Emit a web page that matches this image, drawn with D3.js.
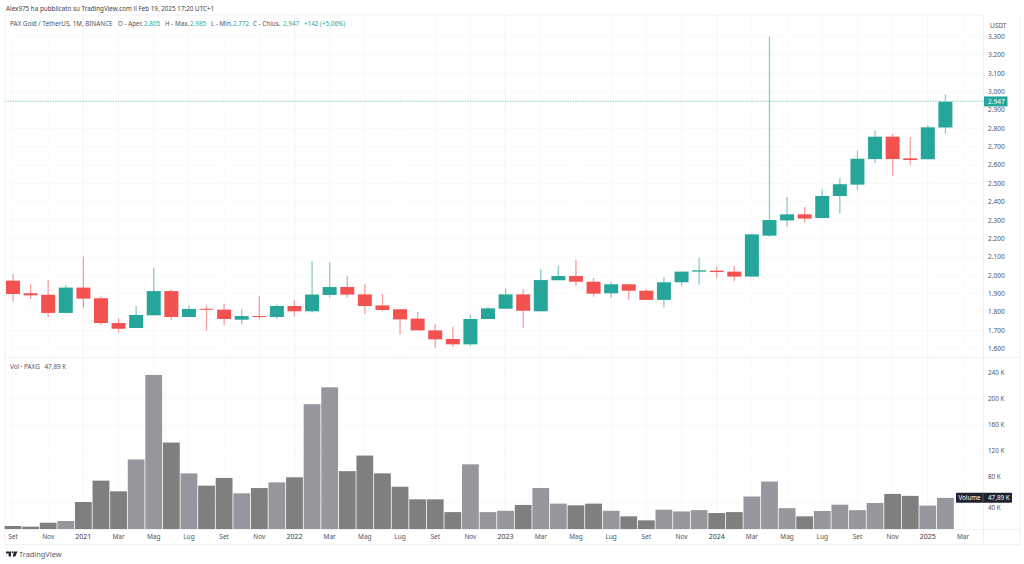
<!DOCTYPE html>
<html>
<head>
<meta charset="utf-8">
<script src="https://cdn.jsdelivr.net/npm/d3@7"></script>
<style>
  html, body { margin: 0; padding: 0; background: #fff; }
  svg { display: block; }
  text { font-family: "Noto Sans", sans-serif; }
</style>
</head>
<body>
<svg id="chart"></svg>
<script>
// monthly candles, Set 2020 -> Feb 2025
const opens = [1.971,1.902,1.894,1.795,1.933,1.875,1.740,1.713,1.782,1.914,1.773,1.818,1.813,1.758,1.778,1.773,1.833,1.804,1.893,
  1.936,1.896,1.836,1.815,1.764,1.700,1.653,1.624,1.762,1.818,1.896,1.804,1.973,1.996,1.965,1.902,1.951,1.916,1.866,
  1.962,2.020,2.025,2.020,1.993,2.216,2.299,2.332,2.312,2.432,2.494,2.633,2.755,2.637,2.632,2.805];
const highs = [2.007,1.953,1.974,1.947,2.101,1.884,1.766,1.833,2.040,1.924,1.838,1.836,1.844,1.815,1.887,1.842,1.865,2.078,2.071,
  1.996,1.953,1.898,1.818,1.800,1.735,1.720,1.784,1.829,1.929,1.925,2.031,2.052,2.085,1.985,1.965,1.951,1.924,1.991,
  2.020,2.096,2.047,2.051,2.225,3.300,2.427,2.372,2.468,2.530,2.679,2.788,2.770,2.753,2.819,2.985];
const lows = [1.856,1.871,1.771,1.795,1.824,1.729,1.688,1.713,1.782,1.758,1.773,1.698,1.729,1.733,1.760,1.760,1.775,1.797,1.878,
  1.878,1.791,1.804,1.679,1.700,1.606,1.610,1.615,1.762,1.818,1.715,1.804,1.973,1.945,1.884,1.878,1.867,1.866,1.824,
  1.940,1.949,1.987,1.967,1.993,2.210,2.265,2.287,2.312,2.338,2.465,2.610,2.541,2.599,2.632,2.772];
const closes = [1.898,1.891,1.795,1.933,1.873,1.740,1.709,1.784,1.914,1.773,1.817,1.813,1.762,1.778,1.773,1.833,1.804,1.895,1.936,
  1.895,1.833,1.811,1.760,1.700,1.651,1.624,1.762,1.820,1.896,1.807,1.974,1.996,1.965,1.900,1.951,1.916,1.866,1.962,
  2.020,2.027,2.018,1.993,2.223,2.301,2.332,2.309,2.432,2.496,2.635,2.755,2.633,2.628,2.806,2.947];
const volumes = [4.6,3.6,9.7,12.3,41.5,74.4,58,107,237,133,85.6,66.7,78.5,54.9,63,71.8,79.5,192,218,
  89,113,85.6,65,45.6,45.6,26,99.5,26,28,37,63,39,36.4,39,28,19.5,13.3,29.7,
  27,29,24.6,26,50,73,32,19.5,27.7,37.4,29,40,54,51,36,47.89];

const priceTicks = [1.6,1.7,1.8,1.9,2.0,2.1,2.2,2.3,2.4,2.5,2.6,2.7,2.8,2.9,3.0,3.1,3.2,3.3];
const volTicks = [40,80,120,160,200,240];
const timeLabels = ["Set","Nov","2021","Mar","Mag","Lug","Set","Nov","2022","Mar","Mag","Lug","Set","Nov","2023","Mar","Mag","Lug","Set","Nov","2024","Mar","Mag","Lug","Set","Nov","2025","Mar"];

const lastPrice = 2.947;
const lastVolume = 47.89;

const width = 1024;
const height = 564;
const green = "#26a69a";
const red = "#f45151";
const gridCol = "#f8f9fa";
const textCol = "#50535e";

const svg = d3.select("#chart").attr("width", width).attr("height", height);

const x = d3.scaleLinear().domain([0, 54]).range([13, 963]);
const y = d3.scaleLinear().domain([2, 3]).range([275.3, 91.7]);
const yVol = d3.scaleLinear().domain([0, 240]).range([529, 373]);
const fmtPrice = d3.format(".3f");
const bodyW = 14;
const barW = 16.8;

// frame + grid
const grid = svg.append("g");
grid.selectAll("line.h").data(priceTicks).join("line")
  .attr("x1", 5).attr("x2", 983).attr("y1", d => y(d)).attr("y2", d => y(d))
  .attr("stroke", gridCol);
grid.selectAll("line.hv").data(volTicks).join("line").attr("class", "hv")
  .attr("x1", 5).attr("x2", 983).attr("y1", d => yVol(d)).attr("y2", d => yVol(d))
  .attr("stroke", gridCol);
grid.selectAll("line.v").data(timeLabels).join("line").attr("class", "v")
  .attr("x1", (d, i) => x(i * 2)).attr("x2", (d, i) => x(i * 2))
  .attr("y1", 15).attr("y2", 529)
  .attr("stroke", d => d.length == 4 ? "#f3f4f6" : gridCol);

const frame = [[5, 983, 15, 15], [5, 1020, 357.5, 357.5], [5, 1020, 529.5, 529.5], [5, 1020, 544.5, 544.5], [983.5, 983.5, 15, 544], [1020, 1020, 15, 544], [5, 5, 15, 544]];
svg.append("g").selectAll("line").data(frame).join("line")
  .attr("x1", d => d[0]).attr("x2", d => d[1]).attr("y1", d => d[2]).attr("y2", d => d[3])
  .attr("stroke", "#f0f1f4");

// volume bars
svg.append("g").selectAll("rect").data(volumes).join("rect")
  .attr("x", (d, i) => x(i) - barW / 2)
  .attr("width", barW)
  .attr("y", d => yVol(d))
  .attr("height", d => yVol(0) - yVol(d))
  .attr("fill", (d, i) => closes[i] >= opens[i] ? "#95979c" : "#7f7f7f");

// candles
const candles = svg.append("g").selectAll("g").data(opens).join("g")
  .attr("fill", (d, i) => closes[i] >= opens[i] ? green : red)
  .attr("stroke", (d, i) => closes[i] >= opens[i] ? green : red);
candles.append("line")
  .attr("x1", (d, i) => x(i)).attr("x2", (d, i) => x(i))
  .attr("y1", (d, i) => y(highs[i])).attr("y2", (d, i) => y(lows[i]))
  .attr("stroke-width", 1.3).attr("stroke-opacity", 0.55);
candles.append("rect")
  .attr("stroke", "none")
  .attr("x", (d, i) => x(i) - bodyW / 2)
  .attr("width", bodyW)
  .attr("y", (d, i) => y(Math.max(opens[i], closes[i])))
  .attr("height", (d, i) => Math.max(1, Math.abs(y(opens[i]) - y(closes[i]))));

// last price line
svg.append("line")
  .attr("x1", 5).attr("x2", 983).attr("y1", y(lastPrice)).attr("y2", y(lastPrice))
  .attr("stroke", "#a5dcd4").attr("stroke-width", 1.2).attr("stroke-dasharray", "1.5 1");

// price axis
const priceAxis = svg.append("g");
priceAxis.selectAll("text").data(priceTicks).join("text")
  .attr("x", 988).attr("y", d => y(d) + 2.3)
  .attr("font-size", 6.5).attr("fill", textCol)
  .text(d => fmtPrice(d));
svg.append("text").attr("x", 990).attr("y", 27.5).attr("font-size", 6.5).attr("fill", textCol).text("USDT");

// volume axis, 40 K sits just under the volume tag
svg.append("g").selectAll("text").data(volTicks).join("text")
  .attr("x", 988).attr("y", d => yVol(d) + (d == 40 ? 6.8 : 2.3))
  .attr("font-size", 6.3).attr("fill", textCol)
  .text(d => d + " K");

// time axis
svg.append("g").selectAll("text").data(timeLabels).join("text")
  .attr("x", (d, i) => x(i * 2)).attr("y", 539)
  .attr("text-anchor", "middle")
  .attr("font-size", d => d.length == 4 ? 7 : 6.5)
  .attr("fill", d => d.length == 4 ? "#33363f" : textCol)
  .text(d => d);

// price tag
svg.append("rect").attr("x", 984).attr("y", y(lastPrice) - 5).attr("width", 23.5).attr("height", 10).attr("fill", green);
svg.append("text").attr("x", 988).attr("y", y(lastPrice) + 2.4).attr("font-size", 6.5).attr("fill", "#fff").text(fmtPrice(lastPrice));

// volume tag
svg.append("rect").attr("x", 956).attr("y", yVol(lastVolume) - 5).attr("width", 56).attr("height", 10).attr("rx", 1).attr("fill", "#1f2230");
svg.append("line").attr("x1", 983).attr("x2", 983).attr("y1", yVol(lastVolume) - 5).attr("y2", yVol(lastVolume) + 5).attr("stroke", "#555");
svg.append("text").attr("x", 958.5).attr("y", yVol(lastVolume) + 2.3).attr("font-size", 6.2).attr("fill", "#fff").text("Volume");
svg.append("text").attr("x", 988).attr("y", yVol(lastVolume) + 2.3).attr("font-size", 6.3).attr("fill", "#fff").text("47,89 K");

// header
svg.append("text").attr("x", 6).attr("y", 10.5).attr("font-size", 6.3).attr("fill", "#3c3f4a")
  .text("Alex975 ha pubblicato su TradingView.com il Feb 19, 2025 17:20 UTC+1");

// legend
const legendParts = [
  [10, "PAX Gold / TetherUS, 1M, BINANCE", textCol],
  [118, "O - Aper.", textCol], [144, "2.805", green],
  [165, "H - Max.", textCol], [190, "2.985", green],
  [211, "L - Min.", textCol], [233, "2.772", green],
  [253, "C - Chius.", textCol], [283, "2.947", green],
  [304, "+142 (+5,06%)", green]
];
svg.append("g").selectAll("text").data(legendParts).join("text")
  .attr("x", d => d[0]).attr("y", 25.5).attr("font-size", 6.3).attr("fill", d => d[2]).text(d => d[1]);

svg.append("text").attr("x", 10).attr("y", 368.5).attr("font-size", 6.3).attr("fill", textCol).text("Vol · PAXG");
svg.append("text").attr("x", 44.5).attr("y", 368.5).attr("font-size", 6.3).attr("fill", textCol).text("47,89 K");

// watermark
svg.append("path").attr("d", "M6 551.5h5v5h-2.4v-3H6z M14 551.5h3.5l-2.2 5h-2.6z M11.6 552.2a0.9 0.9 0 1 0 1.8 0a0.9 0.9 0 1 0 -1.8 0z").attr("fill", "#22252e");
svg.append("text").attr("x", 19).attr("y", 557).attr("font-size", 7.4).attr("fill", "#55586a").text("TradingView");
</script>
</body>
</html>
